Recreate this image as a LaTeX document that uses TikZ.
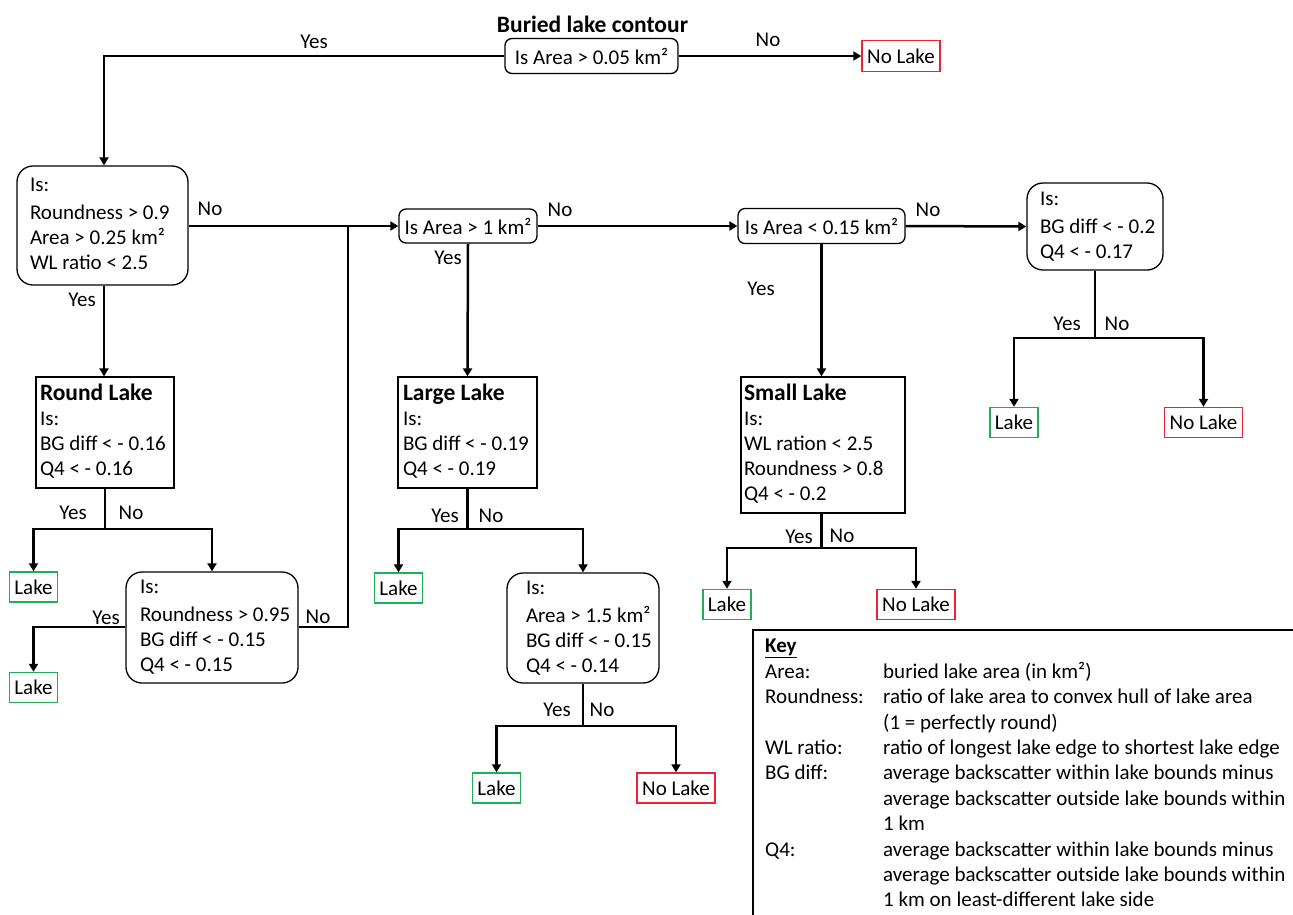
\documentclass[tikz,border=0pt]{standalone}
\usepackage{fontspec}
\setmainfont{Carlito}
\usetikzlibrary{arrows.meta}
\definecolor{lakegreen}{RGB}{30,176,84}
\definecolor{lakered}{RGB}{238,34,52}
% #1 left padding, #2 box width, #3 lines
\newcommand\padtext[3]{\makebox[#2pt][l]{\hspace*{#1pt}\begin{tabular}{@{}l@{}}#3\end{tabular}}}
\newcommand\hd[1]{{\fontsize{23.5}{25}\selectfont\bfseries #1}}
\begin{document}
\begin{tikzpicture}[x=1pt,y=-1pt,
  every node/.style={font=\fontsize{21}{25}\selectfont},
  conn/.style={line width=2.5pt},
  arr/.style={line width=2.5pt,-{Triangle[length=8pt,width=9pt]}},
  qbox/.style={draw,line width=1.3pt,rounded corners=7pt,inner sep=0pt,align=center},
  rbox/.style={draw,line width=1.3pt,rounded corners=16pt,inner sep=0pt},
  sbox/.style={draw,line width=1.3pt,inner sep=0pt},
  lakebox/.style={draw=lakegreen,line width=1.4pt,inner sep=0pt,minimum width=48pt,minimum height=30pt},
  nolakebox/.style={draw=lakered,line width=1.4pt,inner sep=0pt,minimum width=78pt,minimum height=30pt},
  lbl/.style={inner sep=0pt}
]
\useasboundingbox (0,0) rectangle (1293,914);
\clip (0,0) rectangle (1293,914);

% title
\node[lbl] (title) at (592.5,24) {\hd{Buried lake contour}};

% top question
\node[qbox,minimum width=173pt,minimum height=35pt] (b0) at (591.5,56) {Is Area > 0.05 km²};
\node[nolakebox,minimum height=31pt] (nl0) at (901,56) {No Lake};

% first level
\node[rbox,minimum height=119pt] (b1) at (102.5,225.5)
  {\padtext{13}{171}{Is:\\[3pt]Roundness > 0.9\\Area > 0.25 km²\\WL ratio < 2.5}};
\node[qbox,minimum width=138pt,minimum height=34pt] (b2) at (468,226) {Is Area > 1 km²};
\node[qbox,minimum width=167pt,minimum height=35pt] (b3) at (821.5,226) {Is Area < 0.15 km²};
\node[rbox,minimum height=87pt] (b4) at (1095,226.5)
  {\padtext{13}{136}{Is:\\[3pt]BG diff < - 0.2\\Q4 < - 0.17}};
\node[lakebox] (l4) at (1014,422.5) {Lake};
\node[nolakebox] (nl4) at (1203.5,422.5) {No Lake};

% round lake branch
\node[sbox,minimum height=111pt] (rl) at (105,432.5)
  {\padtext{4}{138}{\hd{Round Lake}\\Is:\\BG diff < - 0.16\\Q4 < - 0.16}};
\node[lakebox] (l1) at (33.5,587) {Lake};
\node[rbox,minimum height=111pt] (b5) at (212,627.5)
  {\padtext{14}{172}{Is:\\[3pt]Roundness > 0.95\\BG diff < - 0.15\\Q4 < - 0.15}};
\node[lakebox] (l2) at (33.5,687.5) {Lake};

% large lake branch
\node[sbox,minimum height=111pt] (ll) at (467.5,432.5)
  {\padtext{5}{139}{\hd{Large Lake}\\Is:\\BG diff < - 0.19\\Q4 < - 0.19}};
\node[lakebox] (l3) at (398.5,588) {Lake};
\node[rbox,minimum height=110pt] (b6) at (583,628)
  {\padtext{19}{152}{Is:\\[3pt]Area > 1.5 km²\\BG diff < - 0.15\\Q4 < - 0.14}};
\node[lakebox] (l5) at (496.5,788) {Lake};
\node[nolakebox] (nl5) at (676,788) {No Lake};

% small lake branch
\node[sbox,minimum height=136pt] (sl) at (823,445)
  {\padtext{3}{164}{\hd{Small Lake}\\Is:\\WL ration < 2.5\\Roundness > 0.8\\Q4 < - 0.2}};
\node[lakebox] (l6) at (727,604.5) {Lake};
\node[nolakebox] (nl6) at (916,604.5) {No Lake};

% junction coordinates
\coordinate (c0) at (104,56);
\coordinate (j1) at (348,226);
\coordinate (s4) at (1095,338);
\coordinate (s1) at (105,529);
\coordinate (s2) at (467.5,529);
\coordinate (s3) at (583,726);
\coordinate (s6) at (821.5,548);
\coordinate (c5) at (33.5,627);

% connectors
\draw[arr] (b0.west) -- (c0) -- (c0 |- b1.north);
\draw[arr] (b0.east) -- (nl0.west);
\draw[arr] (b1.east |- j1) -- (b2.west);
\draw[conn] (b5.east |- c5) -| (j1);
\draw[arr] (b2.east) -- (b3.west);
\draw[arr] (b3.east) -- (b4.west);
\draw[conn] (b4.south) -- (s4);
\draw[arr] (s4) -| (l4.north);
\draw[arr] (s4) -| (nl4.north);

\draw[arr] (c0 |- b1.south) -- (c0 |- rl.north);
\draw[conn] (rl.south) -- (s1);
\draw[arr] (s1) -| (l1.north);
\draw[arr] (s1) -| (b5.north);
\draw[arr] (b5.west |- c5) -- (c5) -- (l2.north);

\draw[arr] (b2.south) -- (ll.north);
\draw[conn] (ll.south) -- (s2);
\draw[arr] (s2) -| (l3.north);
\draw[arr] (s2) -| (b6.north);
\draw[conn] (b6.south) -- (s3);
\draw[arr] (s3) -| (l5.north);
\draw[arr] (s3) -| (nl5.north);

\draw[arr] (b3.south) -- (b3.south |- sl.north);
\draw[conn] (b3.south |- sl.south) -- (s6);
\draw[arr] (s6) -| (l6.north);
\draw[arr] (s6) -| (nl6.north);

% labels
\node[lbl] (y0) at (314,42) {Yes};
\node[lbl] (n0) at (768,40) {No};
\node[lbl] (n1) at (210,209) {No};
\node[lbl] (n2) at (560,210) {No};
\node[lbl] (n3) at (928,210) {No};
\node[lbl] (y1) at (82,300) {Yes};
\node[lbl] (y2) at (73,513) {Yes};
\node[lbl] (n4) at (131,513) {No};
\node[lbl] (y3) at (106,618) {Yes};
\node[lbl] (n5) at (318,617) {No};
\node[lbl] (y4) at (448,258) {Yes};
\node[lbl] (y5) at (445,516) {Yes};
\node[lbl] (n6) at (491,516) {No};
\node[lbl] (y6) at (557,710) {Yes};
\node[lbl] (n7) at (602,710) {No};
\node[lbl] (y7) at (761,289) {Yes};
\node[lbl] (y8) at (799,537) {Yes};
\node[lbl] (n8) at (842,536) {No};
\node[lbl] (y9) at (1067,324) {Yes};
\node[lbl] (n9) at (1117,324) {No};

% key
\draw[line width=1.3pt] (753,1000) -- (753,630) -- (1400,630);
\node[anchor=north west,inner sep=0pt,font=\fontsize{21}{25.4}\selectfont] (key) at (765,635)
{\begin{tabular}{@{}p{118pt}@{}l@{}}
\textbf{\underline{Key}} & \\
Area: & buried lake area (in km²)\\
Roundness: & ratio of lake area to convex hull of lake area\\
 & (1 = perfectly round)\\
WL ratio: & ratio of longest lake edge to shortest lake edge\\
BG diff: & average backscatter within lake bounds minus\\
 & average backscatter outside lake bounds within\\
 & 1 km\\
Q4: & average backscatter within lake bounds minus\\
 & average backscatter outside lake bounds within\\
 & 1 km on least-different lake side
\end{tabular}};
\end{tikzpicture}
\end{document}
